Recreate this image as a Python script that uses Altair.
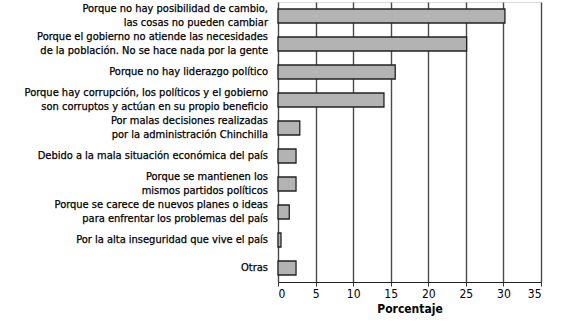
import altair as alt
import pandas as pd

categories = [
    "Porque no hay posibilidad de cambio,|las cosas no pueden cambiar",
    "Porque el gobierno no atiende las necesidades|de la población. No se hace nada por la gente",
    "Porque no hay liderazgo político",
    "Porque hay corrupción, los políticos y el gobierno|son corruptos y actúan en su propio beneficio",
    "Por malas decisiones realizadas|por la administración Chinchilla",
    "Debido a la mala situación económica del país",
    "Porque se mantienen los|mismos partidos políticos",
    "Porque se carece de nuevos planes o ideas|para enfrentar los problemas del país",
    "Por la alta inseguridad que vive el país",
    "Otras",
]
values = [30.2, 25.1, 15.6, 14.1, 2.9, 2.4, 2.4, 1.5, 0.4, 2.4]
x_ticks = [0, 5, 10, 15, 20, 25, 30, 35]

df = pd.DataFrame({"motivo": categories, "pct": values})

FONT = "DejaVu Sans Condensed"
LABEL_SIZE = 11

yscale = alt.Scale(domain=categories, paddingInner=0.5, paddingOuter=0.25)

base = alt.Chart(df)

bars = base.mark_bar(
    color="#b3b3b3", stroke="#222", strokeWidth=1.3
).encode(
    y=alt.Y(
        "motivo:N",
        sort=None,
        title=None,
        scale=yscale,
        axis=alt.Axis(
            labels=False,
            tickBand="extent",
            tickSize=5,
            tickColor="#333",
            domainColor="#222",
            grid=False,
        ),
    ),
    x=alt.X(
        "pct:Q",
        title="Porcentaje",
        scale=alt.Scale(domain=[0, 35], nice=False),
        axis=alt.Axis(
            values=x_ticks,
            grid=True,
            gridColor="#4a4a4a",
            gridWidth=1.4,
            labelFont=FONT,
            labelFontSize=12,
            labelColor="#000",
            labelPadding=2,
            tickSize=4,
            tickColor="#333",
            domainColor="#222",
            titleFont=FONT,
            titleFontSize=12,
            titleFontWeight="bold",
            titleColor="#000",
            titlePadding=4,
        ),
    ),
)

text_y = alt.Y("motivo:N", sort=None, scale=yscale, axis=None)

single = base.transform_filter(
    "indexof(datum.motivo, '|') < 0"
).mark_text(
    align="right", baseline="middle", font=FONT, fontSize=LABEL_SIZE, color="#000",
    stroke="#000", strokeWidth=0.25,
).encode(
    y=text_y, x=alt.value(-10), text="motivo:N"
)

double = base.transform_filter(
    "indexof(datum.motivo, '|') >= 0"
).mark_text(
    align="right", baseline="middle", font=FONT, fontSize=LABEL_SIZE, color="#000",
    stroke="#000", strokeWidth=0.25,
    lineBreak="|", lineHeight=14, dy=-7,
).encode(
    y=text_y, x=alt.value(-10), text="motivo:N"
)

chart = alt.layer(bars, single, double).properties(
    width=263,
    height=280,
    autosize=alt.AutoSizeParams(type="none"),
    padding={"left": 278, "top": 2, "right": 27, "bottom": 43},
).configure_view(
    stroke="#4a4a4a", strokeWidth=1.3
).configure(background="white")

chart.save("out.html", embed_options={"renderer": "svg", "actions": False})
